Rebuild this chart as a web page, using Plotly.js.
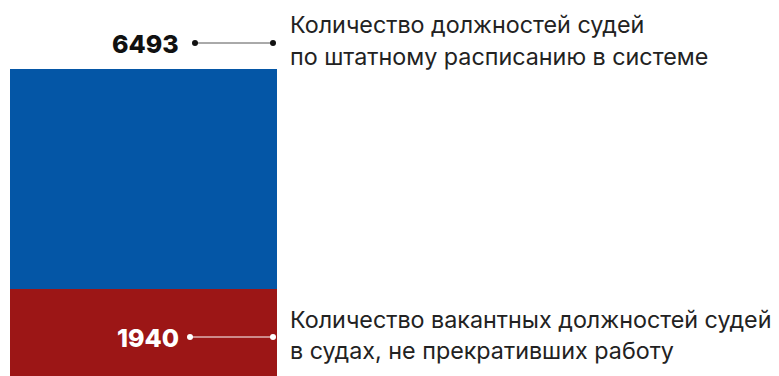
<!DOCTYPE html>
<html>
<head>
<meta charset="utf-8">
<script src="https://cdn.plot.ly/plotly-3.0.1.min.js"></script>
<style>html,body{margin:0;padding:0;background:#fff;}#chart{width:779px;height:376px;}</style>
</head>
<body>
<div id="chart"></div>
<script>
const categories = ['Судьи'];
const totalPositions = [6493];
const vacantPositions = [1940];
const labelTotal = ['Количество должностей судей', 'по штатному расписанию в системе'];
const labelVacant = ['Количество вакантных должностей судей', 'в судах, не прекративших работу'];

const occupied = totalPositions.map((t, i) => t - vacantPositions[i]);

const W = 779, H = 376;
const py = p => 1 - p / H;
const pxp = p => (p - 10) / 267;

const traces = [
  {type: 'bar', x: categories, y: vacantPositions, marker: {color: '#9C1616'}, hoverinfo: 'skip', width: 0.5},
  {type: 'bar', x: categories, y: occupied, marker: {color: '#0456A6'}, hoverinfo: 'skip', width: 0.5}
];

const textFont = {family: 'Inter, Roboto, sans-serif', size: 23.3, color: '#222'};
const numFont = {family: 'Inter, sans-serif', size: 25, weight: 800};

const layout = {
  width: W, height: H,
  margin: {l: 10, r: 502, t: 0, b: 0},
  barmode: 'stack',
  bargap: 0,
  showlegend: false,
  paper_bgcolor: '#fff', plot_bgcolor: '#fff',
  xaxis: {visible: false, range: [-0.25, 0.25], fixedrange: true},
  yaxis: {visible: false, range: [140, 7920], fixedrange: true},
  shapes: [
    {type: 'line', xref: 'paper', yref: 'paper', x0: pxp(195), x1: pxp(273), y0: py(43), y1: py(43), line: {color: '#555', width: 1}},
    {type: 'line', xref: 'paper', yref: 'paper', x0: pxp(190), x1: pxp(273), y0: py(337), y1: py(337), line: {color: '#fff', width: 1}}
  ],
  annotations: [
    {xref: 'paper', yref: 'paper', x: pxp(181), y: py(44), xanchor: 'right', yanchor: 'middle', text: String(totalPositions[0]), showarrow: false, font: Object.assign({}, numFont, {color: '#111'})},
    {xref: 'paper', yref: 'paper', x: pxp(181), y: py(338), xanchor: 'right', yanchor: 'middle', text: String(vacantPositions[0]), showarrow: false, font: Object.assign({}, numFont, {color: '#fff'})},
    {xref: 'paper', yref: 'paper', x: pxp(288), y: py(25), xanchor: 'left', yanchor: 'middle', text: labelTotal[0], showarrow: false, font: textFont},
    {xref: 'paper', yref: 'paper', x: pxp(288), y: py(56), xanchor: 'left', yanchor: 'middle', text: labelTotal[1], showarrow: false, font: textFont},
    {xref: 'paper', yref: 'paper', x: pxp(288), y: py(319), xanchor: 'left', yanchor: 'middle', text: labelVacant[0], showarrow: false, font: textFont},
    {xref: 'paper', yref: 'paper', x: pxp(288), y: py(350), xanchor: 'left', yanchor: 'middle', text: labelVacant[1], showarrow: false, font: textFont}
  ]
};

const dots = [[195, 43, '#111'], [273, 43, '#111'], [190, 337, '#fff'], [273, 337, '#fff']];
dots.forEach(([px, pyy, c]) => {
  const r = 3;
  layout.shapes.push({type: 'circle', xref: 'paper', yref: 'paper',
    x0: pxp(px - r), x1: pxp(px + r), y0: py(pyy + r), y1: py(pyy - r),
    fillcolor: c, line: {width: 0}});
});

Plotly.newPlot('chart', traces, layout, {displayModeBar: false, staticPlot: true});
</script>
</body>
</html>
